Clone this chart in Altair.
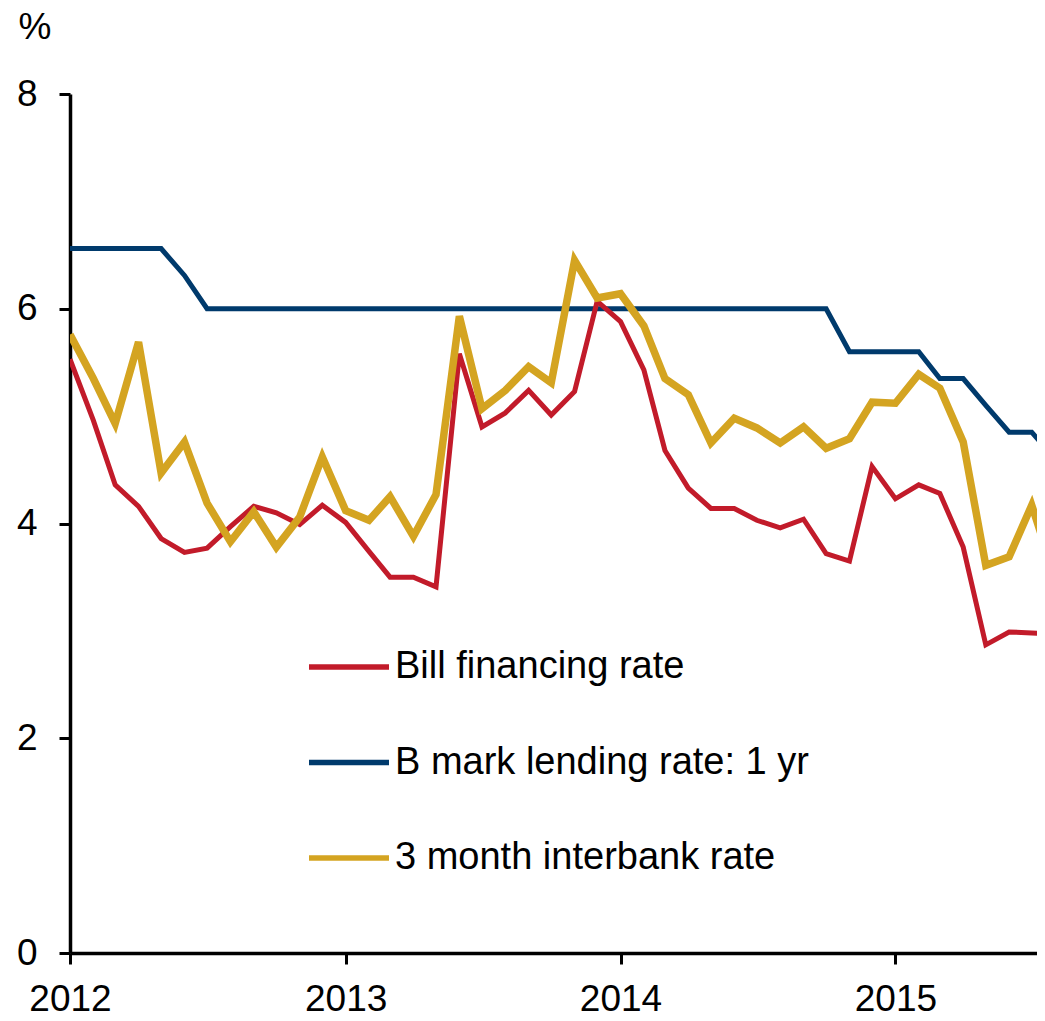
import altair as alt
import pandas as pd

months = pd.date_range("2012-01-01", "2015-08-01", freq="MS").strftime("%Y-%m-%d").tolist()

bill = [5.53, 4.96, 4.36, 4.16, 3.86, 3.73, 3.77, 3.97, 4.16, 4.10, 3.99, 4.17,
        4.01, 3.74, 3.50, 3.50, 3.41, 5.58, 4.90, 5.03, 5.24, 5.01, 5.23, 6.07,
        5.88, 5.43, 4.68, 4.33, 4.14, 4.14, 4.03, 3.96, 4.04, 3.72, 3.65, 4.53,
        4.23, 4.36, 4.28, 3.78, 2.87, 2.99, 2.98, 2.97]
bench = [6.56, 6.56, 6.56, 6.56, 6.56, 6.31, 6.00, 6.00, 6.00, 6.00, 6.00, 6.00,
         6.00, 6.00, 6.00, 6.00, 6.00, 6.00, 6.00, 6.00, 6.00, 6.00, 6.00, 6.00,
         6.00, 6.00, 6.00, 6.00, 6.00, 6.00, 6.00, 6.00, 6.00, 6.00, 5.60, 5.60,
         5.60, 5.60, 5.35, 5.35, 5.10, 4.85, 4.85, 4.60]
interbank = [5.76, 5.35, 4.93, 5.69, 4.47, 4.76, 4.19, 3.83, 4.11, 3.78, 4.06, 4.62,
             4.12, 4.03, 4.25, 3.88, 4.27, 5.93, 5.07, 5.24, 5.46, 5.31, 6.45, 6.10,
             6.14, 5.84, 5.35, 5.20, 4.75, 4.98, 4.89, 4.75, 4.90, 4.70, 4.79, 5.13,
             5.12, 5.39, 5.26, 4.76, 3.61, 3.69, 4.17, 3.50]

series_names = ["Bill financing rate", "B mark lending rate: 1 yr", "3 month interbank rate"]
series_colors = ["#C21B2A", "#003A6C", "#D4A421"]
series_widths = [5, 5, 7.5]
year_ticks = [2012, 2013, 2014, 2015]

rows = []
for name, vals in zip(series_names, [bill, bench, interbank]):
    for d, v in zip(months, vals):
        rows.append({"date": d, "series": name, "value": v})
df = pd.DataFrame(rows)

FONT = "Liberation Sans"

color = alt.Color(
    "series:N",
    scale=alt.Scale(domain=series_names, range=series_colors),
    legend=alt.Legend(
        title=None, orient="none", legendX=236, legendY=530,
        symbolType="stroke", symbolSize=6400, symbolStrokeWidth=5.5,
        labelFontSize=38, labelFont=FONT,
        labelColor="black", labelOffset=3, rowPadding=33.5, padding=0,
        labelLimit=600,
    ),
)

x = alt.X(
    "date:T",
    scale=alt.Scale(type="utc",
                    domain=[alt.DateTime(year=2012, month=1, date=1, utc=True),
                            alt.DateTime(year=2015, month=7, date=8, utc=True)]),
    axis=alt.Axis(
        title=None, grid=False,
        values=[alt.DateTime(year=y, month=1, date=1, utc=True) for y in year_ticks],
        labelExpr="utcFormat(datum.value, '%Y')",
        labelFontSize=37, labelFont=FONT, labelColor="black",
        labelFlush=False,
        tickSize=11, tickWidth=3, tickColor="black",
        domainWidth=3.5, domainColor="black", labelPadding=17,
    ),
)
y = alt.Y(
    "value:Q",
    scale=alt.Scale(domain=[0, 8], nice=False, zero=True),
    axis=alt.Axis(
        values=[0, 2, 4, 6, 8], grid=False,
        labelFontSize=37, labelFont=FONT, labelColor="black",
        tickSize=11, tickWidth=3, tickColor="black",
        domainWidth=3.5, domainColor="black", labelPadding=22,
        title="%", titleAngle=0, titleAlign="left", titleBaseline="alphabetic",
        titleX=-52, titleY=-56, titleFontSize=37, titleFont=FONT,
        titleFontWeight="normal", titleColor="black",
    ),
)

layers = []
order = [1, 0, 2]
for i in order:
    name = series_names[i]
    layers.append(
        alt.Chart(df).transform_filter(alt.datum.series == name)
        .mark_line(clip=True, strokeWidth=series_widths[i], strokeJoin="miter")
        .encode(x=x, y=y, color=color)
    )

chart = alt.layer(*layers).properties(
    width=967, height=859,
    background="white",
    autosize=alt.AutoSizeParams(type="none"),
    padding={"left": 62, "top": 86, "right": 0, "bottom": 60},
).configure_view(strokeWidth=0, stroke="transparent").configure_axis(grid=False)

chart.save("out.html", embed_options={"renderer": "svg", "actions": False})
